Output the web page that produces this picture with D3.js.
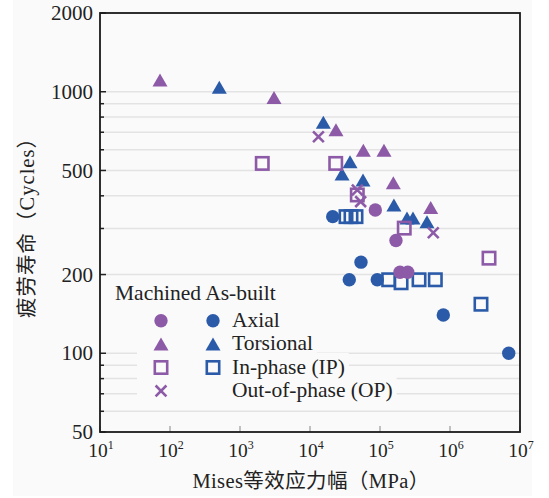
<!DOCTYPE html>
<html>
<head>
<meta charset="utf-8">
<script src="https://cdn.jsdelivr.net/npm/d3@7"></script>
<style>
  body { margin: 0; background: #ffffff; }
  text { font-family: "Liberation Serif", "Noto Sans CJK SC", serif; fill: #222; }
</style>
</head>
<body>
<div id="chart"></div>
<script>
// valores: [Mises (MPa), ciclos]
var machinedAxial = [[85700, 353], [169000, 270], [193000, 204], [249000, 204]];
var asBuiltAxial = [[21100, 333], [53500, 223], [36400, 191], [91400, 191], [802000, 140], [6900000, 100]];
var machinedTorsional = [[72, 1110], [3060, 950], [23500, 715], [57800, 598], [114000, 598], [155000, 449], [530000, 361]];
var asBuiltTorsional = [[506, 1040], [15500, 765], [37300, 540], [28700, 485], [57200, 460], [158000, 369], [243000, 329], [296000, 329], [469000, 318]];
var machinedIP = [[2080, 532], [23300, 532], [47400, 403], [222000, 301], [3610000, 231]];
var asBuiltIP = [[32700, 333], [38500, 333], [45400, 333], [133000, 191], [200000, 186], [361000, 191], [617000, 191], [2770000, 154]];
var machinedOP = [[13200, 673], [47400, 421], [52900, 380], [577000, 289]];

var xDecades = [1, 2, 3, 4, 5, 6, 7];
var yTickLabels = [50, 100, 200, 500, 1000, 2000];
var yGrid = [60, 70, 80, 90, 100, 200, 300, 400, 500, 600, 700, 800, 900, 1000];
var legendRows = ["Axial", "Torsional", "In-phase (IP)", "Out-of-phase (OP)"];

var purple = "#8d5aa7";
var blue = "#2b5ba8";

var W = 549, H = 498;
// limites del area del grafico ("top" choca con window.top)
var pL = 100, pR = 520, pT = 13, pB = 432;

var svg = d3.select("#chart").append("svg")
    .attr("width", W)
    .attr("height", H);

// fondo gris claro de la figura
svg.append("rect").attr("x", 13).attr("y", 0).attr("width", 519).attr("height", 496).attr("fill", "#fafafa");

var x = d3.scaleLog().domain([10, 1e7]).range([pL, pR]);
var y = d3.scaleLog().domain([50, 2000]).range([pB, pT]);

// lineas de la rejilla
svg.append("g").selectAll("line")
    .data(yGrid)
    .enter()
    .append("line")
    .attr("x1", pL).attr("x2", pR)
    .attr("y1", d => y(d)).attr("y2", d => y(d))
    .attr("stroke", "#e3e3e3")
    .attr("stroke-width", 1.5);

// ticks eje Y (hacia dentro)
svg.append("g").selectAll("line")
    .data(yGrid.concat([50, 2000]))
    .enter()
    .append("line")
    .attr("x1", pL)
    .attr("x2", d => pL + (yTickLabels.indexOf(d) >= 0 ? 6 : 4))
    .attr("y1", d => y(d)).attr("y2", d => y(d))
    .attr("stroke", "#222")
    .attr("stroke-width", 1.5);

// ticks eje X
svg.append("g").selectAll("line")
    .data(xDecades)
    .enter()
    .append("line")
    .attr("x1", d => x(Math.pow(10, d))).attr("x2", d => x(Math.pow(10, d)))
    .attr("y1", pB).attr("y2", pB - 6)
    .attr("stroke", "#999")
    .attr("stroke-width", 1.2);

// etiquetas eje Y
svg.append("g").selectAll("text")
    .data(yTickLabels)
    .enter()
    .append("text")
    .attr("x", pL - 7)
    .attr("y", d => y(d))
    .attr("dy", "0.34em")
    .attr("text-anchor", "end")
    .style("font-size", "21px")
    .text(d => d);

// etiquetas eje X con exponente
var xl = svg.append("g").selectAll("text")
    .data(xDecades)
    .enter()
    .append("text")
    .attr("x", d => x(Math.pow(10, d)) + 1)
    .attr("y", 456.5)
    .attr("text-anchor", "middle")
    .style("font-size", "19.5px");
xl.append("tspan").text("10");
xl.append("tspan").attr("dy", -8).style("font-size", "12px").text(d => d);

// titulos
svg.append("text")
    .attr("x", (pL + pR) / 2 + 1)
    .attr("y", 488)
    .attr("text-anchor", "middle")
    .style("font-size", "20.5px")
    .style("letter-spacing", "0.4px")
    .text("Mises等效应力幅（MPa）");

svg.append("text")
    .attr("transform", "translate(34," + (pT + pB) / 2 + ") rotate(-90)")
    .attr("text-anchor", "middle")
    .style("font-size", "20.5px")
    .style("letter-spacing", "1px")
    .text("疲劳寿命（Cycles）");

// marcadores
function drawCircles(g, data, color) {
    g.selectAll(null).data(data).enter().append("circle")
        .attr("cx", d => x(d[0])).attr("cy", d => y(d[1]))
        .attr("r", 6.7)
        .attr("fill", color);
}
function triPath(cx, cy) {
    return "M" + (cx - 7.5) + "," + (cy + 6.5) + "L" + (cx + 7.5) + "," + (cy + 6.5) + "L" + cx + "," + (cy - 6.5) + "Z";
}
function drawTriangles(g, data, color) {
    g.selectAll(null).data(data).enter().append("path")
        .attr("d", d => triPath(x(d[0]), y(d[1])))
        .attr("fill", color);
}
function drawSquares(g, data, color) {
    g.selectAll(null).data(data).enter().append("rect")
        .attr("x", d => x(d[0]) - 6.2).attr("y", d => y(d[1]) - 6.2)
        .attr("width", 12.4).attr("height", 12.4)
        .attr("fill", "none")
        .attr("stroke", color)
        .attr("stroke-width", 2.6);
}
function crossPath(cx, cy) {
    var s = 5.4;
    return "M" + (cx - s) + "," + (cy - s) + "L" + (cx + s) + "," + (cy + s) + "M" + (cx - s) + "," + (cy + s) + "L" + (cx + s) + "," + (cy - s);
}
function drawCrosses(g, data, color) {
    g.selectAll(null).data(data).enter().append("path")
        .attr("d", d => crossPath(x(d[0]), y(d[1])))
        .attr("fill", "none")
        .attr("stroke", color)
        .attr("stroke-width", 2.6);
}

// leyenda (fondo primero para tapar la rejilla)
var legG = svg.append("g");
var rowY = [320.7, 344.1, 367.5, 390.9];
var textX = 232;
var legBg = legG.append("g");
legG.append("text")
    .attr("x", 115).attr("y", 300)
    .style("font-size", "21.5px")
    .text("Machined As-built");
var legTexts = legG.selectAll(".legtxt")
    .data(legendRows)
    .enter()
    .append("text")
    .attr("class", "legtxt")
    .attr("x", textX)
    .attr("y", (d, i) => rowY[i] + 6)
    .style("font-size", "21.5px")
    .text(d => d);
legTexts.each(function (d, i) {
    var w = this.getComputedTextLength();
    legBg.append("rect")
        .attr("x", 137).attr("y", rowY[i] - 14.5)
        .attr("width", textX + w + 4 - 137).attr("height", 23.6)
        .attr("fill", "#fafafa");
});

var lc1 = 161, lc2 = 213;
legG.append("circle").attr("cx", lc1).attr("cy", rowY[0]).attr("r", 6.7).attr("fill", purple);
legG.append("circle").attr("cx", lc2).attr("cy", rowY[0]).attr("r", 6.7).attr("fill", blue);
legG.append("path").attr("d", triPath(lc1, rowY[1])).attr("fill", purple);
legG.append("path").attr("d", triPath(lc2, rowY[1])).attr("fill", blue);
legG.append("rect").attr("x", lc1 - 6.2).attr("y", rowY[2] - 6.2).attr("width", 12.4).attr("height", 12.4)
    .attr("fill", "none").attr("stroke", purple).attr("stroke-width", 2.6);
legG.append("rect").attr("x", lc2 - 6.2).attr("y", rowY[2] - 6.2).attr("width", 12.4).attr("height", 12.4)
    .attr("fill", "none").attr("stroke", blue).attr("stroke-width", 2.6);
legG.append("path").attr("d", crossPath(lc1, rowY[3])).attr("fill", "none").attr("stroke", purple).attr("stroke-width", 2.6);

// datos: azul primero, morado encima
var marks = svg.append("g");
drawCircles(marks, asBuiltAxial, blue);
drawTriangles(marks, asBuiltTorsional, blue);
drawSquares(marks, asBuiltIP, blue);
drawCircles(marks, machinedAxial, purple);
drawTriangles(marks, machinedTorsional, purple);
drawSquares(marks, machinedIP, purple);
drawCrosses(marks, machinedOP, purple);

// marco
svg.append("rect")
    .attr("x", pL).attr("y", pT)
    .attr("width", pR - pL).attr("height", pB - pT)
    .attr("fill", "none")
    .attr("stroke", "#1a1a1a")
    .attr("stroke-width", 1.8);
</script>
</body>
</html>
